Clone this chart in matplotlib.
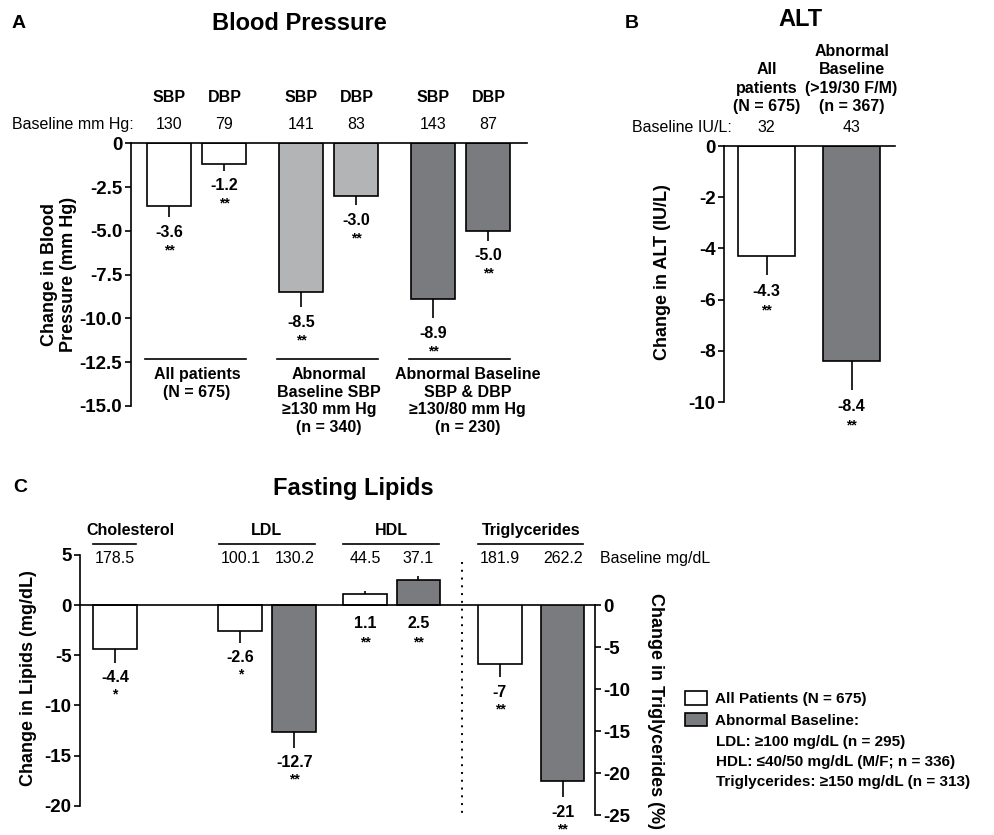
import matplotlib
matplotlib.use('Agg')
import matplotlib.pyplot as plt
from matplotlib.patches import Patch

plt.rcParams['font.family'] = ['Liberation Sans', 'DejaVu Sans']

# ---------------- data ----------------
# Panel A: blood pressure
bp_groups = ['All patients\n(N = 675)',
             'Abnormal\nBaseline SBP\n≥130 mm Hg\n(n = 340)',
             'Abnormal Baseline\nSBP & DBP\n≥130/80 mm Hg\n(n = 230)']
bp_measures = ['SBP', 'DBP']
bp_baseline = [[130, 79], [141, 83], [143, 87]]
bp_change = [[-3.6, -1.2], [-8.5, -3.0], [-8.9, -5.0]]
bp_err = [[0.63, 0.36], [0.86, 0.55], [1.1, 0.57]]
bp_sig = [['**', '**'], ['**', '**'], ['**', '**']]
bp_ticks = [0, -2.5, -5.0, -7.5, -10.0, -12.5, -15.0]

# Panel B: ALT
alt_groups = ['All\npatients\n(N = 675)', 'Abnormal\nBaseline\n(>19/30 F/M)\n(n = 367)']
alt_baseline = [32, 43]
alt_change = [-4.3, -8.4]
alt_err = [0.75, 1.15]
alt_sig = ['**', '**']
alt_ticks = [0, -2, -4, -6, -8, -10]

# Panel C: fasting lipids
lipid_names = ['Cholesterol', 'LDL', 'HDL', 'Triglycerides']
lipid_baseline = [[178.5], [100.1, 130.2], [44.5, 37.1], [181.9, 262.2]]
lipid_change = [[-4.4], [-2.6, -12.7], [1.1, 2.5], [-7, -21]]
lipid_err = [[1.35], [1.15, 1.5], [0.27, 0.4], [1.6, 1.9]]
lipid_sig = [['*'], ['*', '**'], ['**', '**'], ['**', '**']]
lipid_ticks = [5, 0, -5, -10, -15, -20]
trig_ticks = [0, -5, -10, -15, -20, -25]

legend_labels = ['All Patients (N = 675)', 'Abnormal Baseline:']
legend_extra = ['LDL: ≥100 mg/dL (n = 295)',
                'HDL: ≤40/50 mg/dL (M/F; n = 336)',
                'Triglycerides: ≥150 mg/dL (n = 313)']

# ---------------- style ----------------
W, H = 995, 835
fig = plt.figure(figsize=(W / 100, H / 100), dpi=100)
PX = 0.72  # points per pixel
WHITE, LIGHT, DARK = 'white', '#b3b4b6', '#7a7b7e'
LW = 1.2
FS_TICK = 13.5
FS_TXT = 11.5
FS_LAB = 13
FS_TITLE = 17
FS_SIG = 10


def add_ax(l, r, t, b):
    return fig.add_axes([l / W, 1 - b / H, (r - l) / W, (b - t) / H])


def style_left(ax, ticks, fmt):
    for s in ['top', 'right', 'bottom']:
        ax.spines[s].set_visible(False)
    ax.spines['left'].set_linewidth(LW)
    ax.set_xticks([])
    ax.set_yticks(ticks)
    ax.set_yticklabels([fmt(t) for t in ticks], fontsize=FS_TICK, fontweight='bold')
    ax.tick_params(axis='y', direction='out', length=4, width=LW, pad=2)
    ax.patch.set_alpha(0)


def annot(ax, x, y, txt, dpx, fs=FS_TXT, weight='bold'):
    ax.annotate(txt, (x, y), xytext=(0, -dpx * PX), textcoords='offset points',
                ha='center', va='center', fontsize=fs, fontweight=weight,
                annotation_clip=False)


def bar_with_err(ax, x, v, e, color, width):
    ax.bar(x, v, width=width, color=color, edgecolor='black', linewidth=LW, zorder=3)
    if v < 0:
        yerr = [[e], [0]]
    else:
        yerr = [[0], [e]]
    ax.errorbar([x], [v], yerr=yerr, fmt='none', ecolor='black', elinewidth=LW,
                capsize=0, zorder=2)


# ---------------- Panel A ----------------
axA = add_ax(130.7, 527, 143.3, 406)
style_left(axA, bp_ticks, lambda t: '0' if t == 0 else f'{t:.1f}')
axA.set_ylim(-15, 0)
axA.set_xlim(-0.705, 6.5)
axA.axhline(0, color='black', lw=LW, clip_on=False, zorder=4)
bp_colors = [WHITE, LIGHT, DARK]
GSTEP_A = 2.4
for g in range(len(bp_groups)):
    for m in range(len(bp_measures)):
        x = g * GSTEP_A + m
        v = bp_change[g][m]
        e = bp_err[g][m]
        bar_with_err(axA, x, v, e, bp_colors[g], 0.8)
        annot(axA, x, v - e, f'{v:.1f}', 15)
        annot(axA, x, v - e, bp_sig[g][m], 33, fs=FS_SIG)
        axA.text(x, 2.59, bp_measures[m], ha='center', va='center',
                 fontsize=FS_TXT, fontweight='bold', clip_on=False)
        axA.text(x, 1.05, str(bp_baseline[g][m]), ha='center', va='center',
                 fontsize=FS_TXT, clip_on=False)
    x0 = g * GSTEP_A
    axA.plot([x0 - 0.45, x0 + 1.4], [-12.3, -12.3], color='black', lw=LW, clip_on=False)
    axA.annotate(bp_groups[g], (x0 + 0.5 + (0.12 if g == 2 else 0), -12.3),
                 xytext=(0, -8 * PX), textcoords='offset points', ha='center', va='top',
                 fontsize=FS_TXT, fontweight='bold', linespacing=1.24,
                 annotation_clip=False)
axA.text(-0.645, 1.05, 'Baseline mm Hg:', ha='right', va='center', fontsize=FS_TXT,
         clip_on=False)
fig.text(59 / W, 1 - 274 / H, 'Change in Blood\nPressure (mm Hg)', rotation=90,
         ha='center', va='center', fontsize=FS_LAB, fontweight='bold', linespacing=1.1)
fig.text(299 / W, 1 - 23 / H, 'Blood Pressure', ha='center', va='center',
         fontsize=FS_TITLE, fontweight='bold')
fig.text(19 / W, 1 - 23 / H, 'A', ha='center', va='center', fontsize=14, fontweight='bold')

# ---------------- Panel B ----------------
axB = add_ax(724, 895, 146, 402)
style_left(axB, alt_ticks, lambda t: f'{t:d}')
axB.set_ylim(-10, 0)
axB.set_xlim(-0.5, 1.51)
axB.axhline(0, color='black', lw=LW, clip_on=False, zorder=4)
alt_colors = [WHITE, DARK]
for i in range(len(alt_groups)):
    v, e = alt_change[i], alt_err[i]
    bar_with_err(axB, i, v, e, alt_colors[i], 0.67)
    annot(axB, i, v - e, f'{v:.1f}', 16)
    annot(axB, i, v - e, alt_sig[i], 35, fs=FS_SIG)
    axB.text(i, 1.37, alt_groups[i], ha='center', va='baseline', fontsize=FS_TXT,
             fontweight='bold', linespacing=1.27, clip_on=False)
    axB.text(i, 0.74, str(alt_baseline[i]), ha='center', va='center', fontsize=FS_TXT,
             clip_on=False)
axB.text(-0.41, 0.74, 'Baseline IU/L:', ha='right', va='center', fontsize=FS_TXT,
         clip_on=False)
fig.text(663 / W, 1 - 272 / H, 'Change in ALT (IU/L)', rotation=90, ha='center',
         va='center', fontsize=FS_LAB, fontweight='bold')
fig.text(800 / W, 1 - 20 / H, 'ALT', ha='center', va='center', fontsize=FS_TITLE,
         fontweight='bold')
fig.text(632 / W, 1 - 23 / H, 'B', ha='center', va='center', fontsize=14, fontweight='bold')

# ---------------- Panel C ----------------
axC = add_ax(80, 595, 555, 805.7)
style_left(axC, lipid_ticks, lambda t: f'{t:d}')
axC.set_ylim(-20, 5)
XL = (-0.648, 8.89)
axC.set_xlim(*XL)
axC.axhline(0, color='black', lw=LW, clip_on=False, zorder=4)

axT = add_ax(80, 595, 605, 815)
axT.set_xlim(*XL)
axT.set_ylim(-25, 0)
for s in ['top', 'left', 'bottom']:
    axT.spines[s].set_visible(False)
axT.spines['right'].set_linewidth(LW)
axT.set_xticks([])
axT.yaxis.tick_right()
axT.set_yticks(trig_ticks)
axT.set_yticklabels([f'{t:d}' for t in trig_ticks], fontsize=FS_TICK, fontweight='bold')
axT.tick_params(axis='y', direction='out', length=4, width=LW, pad=2)
axT.patch.set_alpha(0)

c_starts = [0, 2.32, 4.63, 7.13]
c_steps = [1.0, 1.0, 0.99, 1.16]
c_name_dx = [0.3, 0, 0, 0]
c_colors = [WHITE, DARK]
for g in range(len(lipid_names)):
    ax = axT if g == 3 else axC
    xs = [c_starts[g] + m * c_steps[g] for m in range(len(lipid_change[g]))]
    for m, x in enumerate(xs):
        v = lipid_change[g][m]
        e = lipid_err[g][m]
        bar_with_err(ax, x, v, e, c_colors[m], 0.81)
        txt = f'{v:g}' if g == 3 else f'{v:.1f}'
        if v < 0:
            annot(ax, x, v - e, txt, 15)
            annot(ax, x, v - e, lipid_sig[g][m], 32, fs=FS_SIG)
        else:
            annot(ax, x, 0, txt, 18)
            annot(ax, x, 0, lipid_sig[g][m], 37, fs=FS_SIG)
        axC.text(x, 4.67, f'{lipid_baseline[g][m]:.1f}', ha='center', va='center',
                 fontsize=FS_TXT, clip_on=False)
    lx0 = xs[0] - 0.4
    lx1 = xs[-1] + 0.38
    axC.plot([lx0, lx1], [6.09, 6.09], color='black', lw=LW, clip_on=False)
    axC.text((lx0 + lx1) / 2 + c_name_dx[g], 7.49, lipid_names[g], ha='center',
             va='center', fontsize=FS_TXT, fontweight='bold', clip_on=False)
axC.plot([6.43, 6.43], [4.33, -21.2], color='black', lw=1.4, ls=(0, (1, 3)),
         clip_on=False)
axC.text(8.98, 4.67, 'Baseline mg/dL', ha='left', va='center', fontsize=FS_TXT,
         clip_on=False)
fig.text(29 / W, 1 - 678 / H, 'Change in Lipids (mg/dL)', rotation=90, ha='center',
         va='center', fontsize=FS_LAB, fontweight='bold')
fig.text(656 / W, 1 - 711 / H, 'Change in Triglycerides (%)', rotation=-90,
         ha='center', va='center', fontsize=FS_LAB, fontweight='bold')
fig.text(353 / W, 1 - 488 / H, 'Fasting Lipids', ha='center', va='center',
         fontsize=FS_TITLE, fontweight='bold')
fig.text(20 / W, 1 - 488 / H, 'C', ha='center', va='center', fontsize=14,
         fontweight='bold')

# legend
handles = [Patch(facecolor=WHITE, edgecolor='black', linewidth=LW),
           Patch(facecolor=DARK, edgecolor='black', linewidth=LW)]
fig.legend(handles, legend_labels, loc='upper left',
           bbox_to_anchor=(685 / W, 1 - 691 / H), frameon=False,
           prop={'size': 11, 'weight': 'bold'}, handlelength=1.45,
           handleheight=1.0, handletextpad=0.5, labelspacing=0.43,
           borderpad=0, borderaxespad=0)
for i, t in enumerate(legend_extra):
    fig.text(716 / W, 1 - (742 + 20 * i) / H, t, ha='left', va='center',
             fontsize=11, fontweight='bold')

fig.savefig('out.png', dpi=100)
